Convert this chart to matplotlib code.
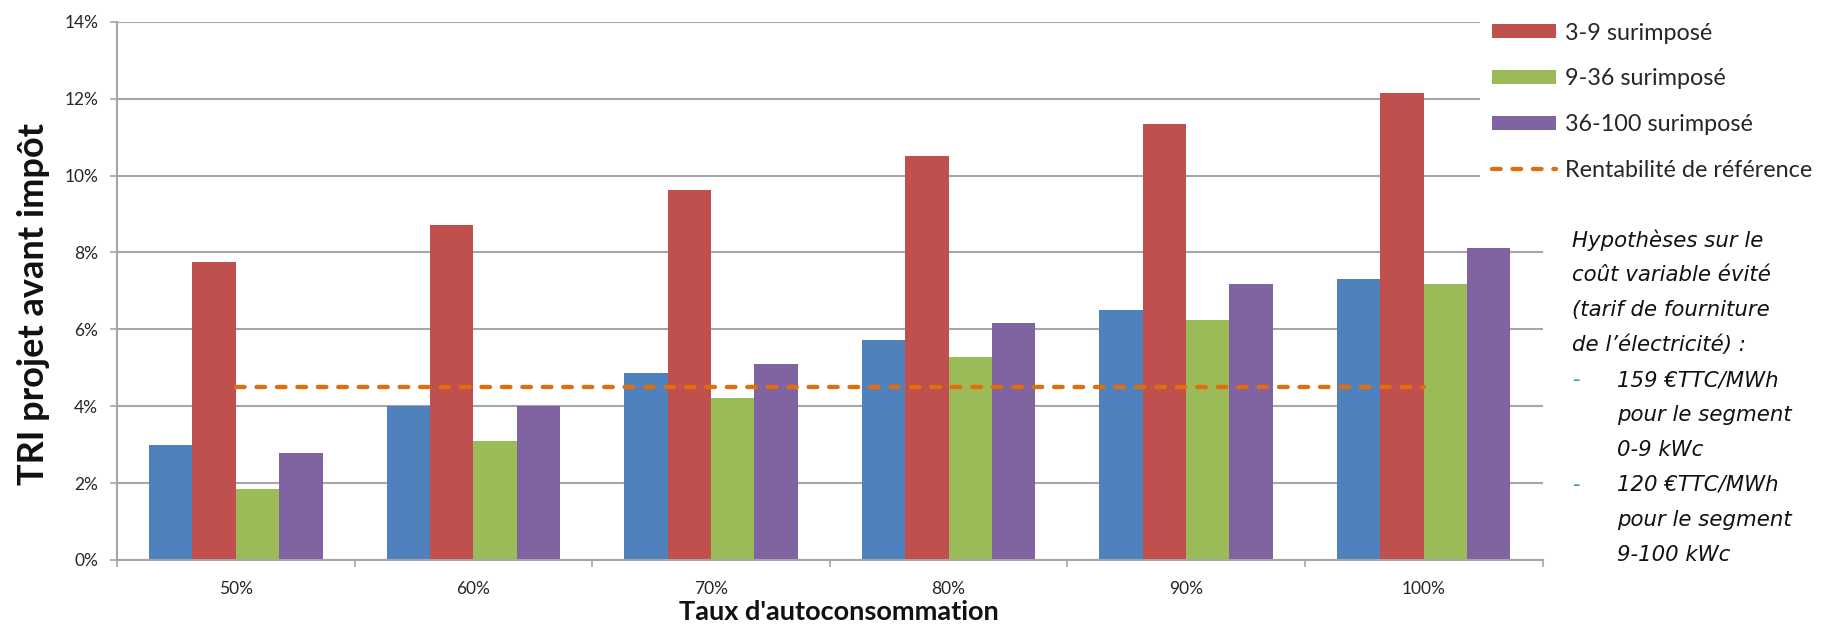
import numpy as np
import matplotlib
matplotlib.use("Agg")
import matplotlib.pyplot as plt
from matplotlib.patches import Patch, Rectangle
from matplotlib.lines import Line2D

# Données : TRI projet avant impôt selon le taux d'autoconsommation
categories = ["50%", "60%", "70%", "80%", "90%", "100%"]
serie_bleue = [3.0, 4.0, 4.87, 5.73, 6.50, 7.30]
tri_3_9 = [7.75, 8.70, 9.62, 10.52, 11.35, 12.15]
tri_9_36 = [1.85, 3.09, 4.21, 5.28, 6.25, 7.19]
tri_36_100 = [2.77, 4.0, 5.11, 6.16, 7.18, 8.11]
rentabilite_ref = [4.5, 4.5, 4.5, 4.5, 4.5, 4.5]

labels_legende = ["3-9 surimposé", "9-36 surimposé", "36-100 surimposé",
                  "Rentabilité de référence"]
y_ticks = [0, 2, 4, 6, 8, 10, 12, 14]

hypotheses = [
    ("", "Hypothèses sur le"),
    ("", "coût variable évité"),
    ("", "(tarif de fourniture"),
    ("", "de l’électricité) :"),
    ("-", "159 €TTC/MWh"),
    ("", "pour le segment"),
    ("", "0-9 kWc"),
    ("-", "120 €TTC/MWh"),
    ("", "pour le segment"),
    ("", "9-100 kWc"),
]

BLEU = "#4F81BD"
ROUGE = "#C0504D"
VERT = "#9BBB59"
VIOLET = "#8064A2"
ORANGE = "#E46C0A"
GRIS = "#A6A6A6"
TEXTE = "#262626"

plt.rcParams["font.family"] = ["Lato", "DejaVu Sans"]

W, H = 1821, 626
fig = plt.figure(figsize=(W / 100, H / 100), dpi=100)
left, right, top, bottom = 117, 1542.5, 21.7, 560
ax = fig.add_axes([left / W, 1 - bottom / H, (right - left) / W, (bottom - top) / H])

x = np.arange(len(categories))
bw = 0.1825
series = [(serie_bleue, BLEU), (tri_3_9, ROUGE), (tri_9_36, VERT), (tri_36_100, VIOLET)]
for i, (vals, col) in enumerate(series):
    ax.bar(x + (i - 1.5) * bw, vals, width=bw, color=col, zorder=2, linewidth=0)

dash_kw = dict(color=ORANGE, linewidth=3.1, dashes=(2.0, 2.75),
               dash_capstyle="round", solid_capstyle="round")
ax.plot(x, rentabilite_ref, zorder=3, **dash_kw)

ax.set_xlim(-0.5, len(categories) - 0.5)
ax.set_ylim(0, 14)
ax.set_yticks(y_ticks)
ax.set_yticklabels([f"{v}%" for v in y_ticks])
ax.yaxis.grid(True, color=GRIS, linewidth=1.5, zorder=0)
ax.set_axisbelow(True)

# ticks de catégories aux frontières, étiquettes centrées
ax.set_xticks(np.arange(len(categories) + 1) - 0.5)
ax.set_xticklabels([])
ax.set_xticks(x, minor=True)
ax.set_xticklabels(categories, minor=True)
ax.tick_params(axis="x", which="major", length=5, width=1.2, color=GRIS, direction="out")
ax.tick_params(axis="x", which="minor", length=0, pad=15, labelsize=12.5, labelcolor=TEXTE)
ax.tick_params(axis="y", length=5, width=1.2, color=GRIS, direction="out",
               labelsize=12.5, labelcolor=TEXTE, pad=8.5)

for s in ["top", "right"]:
    ax.spines[s].set_visible(False)
for s in ["left", "bottom"]:
    ax.spines[s].set_color(GRIS)
    ax.spines[s].set_linewidth(1.5)

# titres des axes
fig.text(34 / W, 1 - 304 / H, "TRI projet avant impôt", rotation=90,
         ha="center", va="center", fontsize=26, fontweight="bold", color="#111111")
fig.text(839 / W, 1 - 612 / H, "Taux d'autoconsommation",
         ha="center", va="center", fontsize=19.5, fontweight="bold", color="#111111")

# zone blanche de la légende, posée au-dessus du quadrillage
fig.add_artist(Rectangle((1480 / W, 1 - 195 / H), (W - 1480) / W, 195 / H,
                         transform=fig.transFigure, facecolor="white",
                         edgecolor="none", zorder=1))

leg_handles = [Patch(facecolor=ROUGE), Patch(facecolor=VERT), Patch(facecolor=VIOLET),
               Line2D([0], [0], **dash_kw)]
leg = fig.legend(leg_handles, labels_legende, loc="upper left",
                 bbox_to_anchor=(1492 / W, 1 - 22.5 / H), frameon=False,
                 borderaxespad=0, borderpad=0, fontsize=16.8, handlelength=2.75,
                 handleheight=0.545, handletextpad=0.39, labelspacing=1.06)
leg.set_zorder(2)
for t in leg.get_texts():
    t.set_color(TEXTE)

# hypothèses
y0, dy = 240, 35
for k, (puce, ligne) in enumerate(hypotheses):
    yy = 1 - (y0 + k * dy) / H
    if puce:
        fig.text(1573 / W, yy, puce, ha="left", va="center", fontsize=15.3,
                 color="#3E9C8C", family="DejaVu Sans", zorder=3)
    xx = 1572 if k < 4 else 1617
    fig.text(xx / W, yy, ligne, ha="left", va="center", fontsize=15.3,
             style="italic", family="DejaVu Sans", color="#111111", zorder=3)

fig.savefig("out.png", dpi=100)
